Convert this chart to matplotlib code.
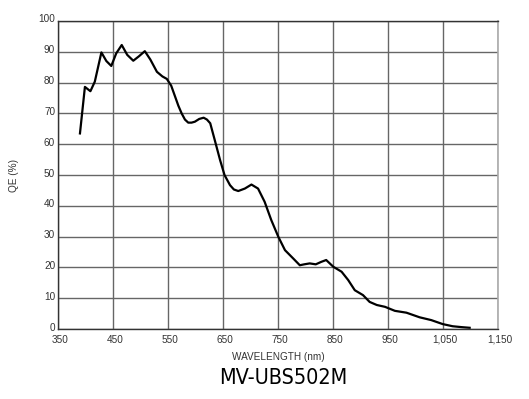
import numpy as np
import matplotlib
matplotlib.use("Agg")
import matplotlib.pyplot as plt
from matplotlib.transforms import ScaledTranslation

# wavelength (nm) and quantum efficiency (%)
wavelength = [390, 399, 409, 417, 429, 438, 447, 456, 466, 476, 487, 497, 508,
              518, 530, 540, 548, 556, 562, 569, 575, 581, 587, 593, 599, 607,
              615, 621, 627, 635, 645, 653, 663, 670, 678, 690, 702, 714, 726,
              738, 751, 763, 778, 790, 798, 808, 819, 829, 838, 851, 866, 878,
              890, 905, 917, 930, 945, 963, 984, 1008, 1029, 1050, 1068, 1085, 1099]
qe = [63.5, 78.6, 77.2, 80.3, 89.8, 87.0, 85.4, 89.5, 92.2, 89.0, 87.1, 88.5, 90.2,
      87.5, 83.5, 82.0, 81.2, 79.0, 76.0, 72.5, 70.0, 68.0, 67.0, 67.0, 67.3, 68.2,
      68.6, 68.0, 66.8, 61.5, 54.8, 50.0, 46.7, 45.3, 44.8, 45.6, 46.9, 45.6, 41.3,
      35.4, 29.9, 25.6, 22.9, 20.7, 21.0, 21.3, 21.0, 21.8, 22.4, 20.2, 18.6, 15.9,
      12.6, 11.0, 8.8, 7.8, 7.2, 5.9, 5.3, 3.8, 2.9, 1.6, 0.9, 0.6, 0.4]

x_ticks = [350, 450, 550, 650, 750, 850, 950, 1050, 1150]
x_labels = ["350", "450", "550", "650", "750", "850", "950", "1,050", "1,150"]
y_ticks = [0, 10, 20, 30, 40, 50, 60, 70, 80, 90, 100]

plt.rcParams['font.family'] = ['Liberation Sans', 'DejaVu Sans']

fig = plt.figure(figsize=(5.29, 3.99), dpi=100)
ax = fig.add_axes([0.1096, 0.1754, 0.8312, 0.772])

ax.plot(wavelength, qe, color='black', lw=1.6, solid_joinstyle='round')

ax.set_xlim(350, 1150)
ax.set_ylim(0, 100)
ax.set_xticks(x_ticks)
ax.set_xticklabels(x_labels)
ax.set_yticks(y_ticks)
ax.tick_params(length=0, labelsize=7.2, colors='#333333')
ax.tick_params(axis='x', pad=4.0)
ax.tick_params(axis='y', pad=2.0)

# labels sit a little right of / above their grid line
for lab in ax.get_xticklabels():
    lab.set_transform(lab.get_transform() + ScaledTranslation(2.5 / 100, 0, fig.dpi_scale_trans))
for lab in ax.get_yticklabels():
    lab.set_transform(lab.get_transform() + ScaledTranslation(0, 2.5 / 100, fig.dpi_scale_trans))

ax.grid(True, color='#666666', lw=1.0)
ax.set_axisbelow(True)
for side in ['left', 'top', 'bottom']:
    ax.spines[side].set_color('#333333')
    ax.spines[side].set_linewidth(1.0)
ax.spines['right'].set_color('#aaaaaa')
ax.spines['right'].set_linewidth(1.2)

ax.set_xlabel("WAVELENGTH (nm)", fontsize=7.2, color='#333333', labelpad=5)
ax.set_ylabel("QE (%)", fontsize=7.2, color='#333333', labelpad=14)

fig.text(283 / 529, 1 - 378 / 399, "MV-UBS502M", fontsize=15.5, ha='center', va='center',
         family=['DejaVu Sans'], fontstretch='condensed', color='black')

fig.savefig("out.png", dpi=100)
